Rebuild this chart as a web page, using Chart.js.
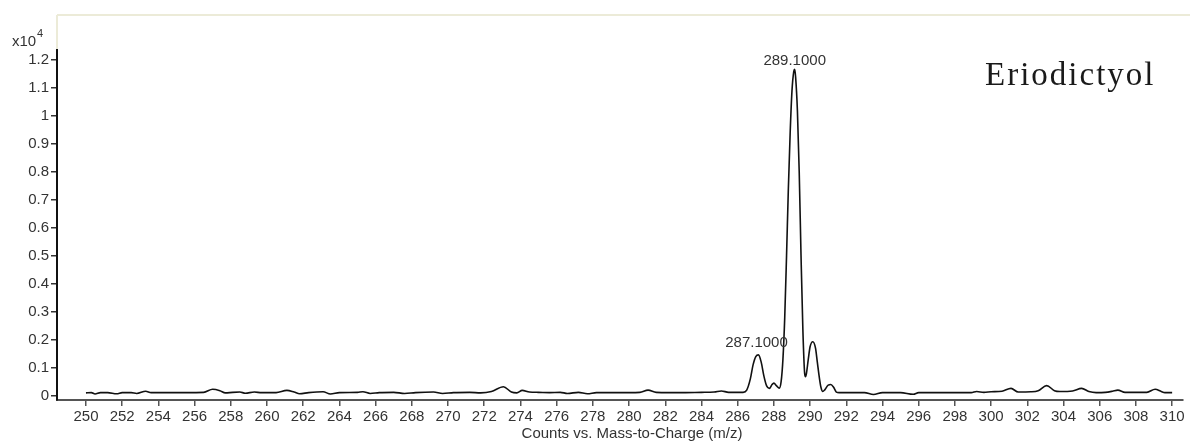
<!DOCTYPE html>
<html>
<head>
<meta charset="utf-8">
<script src="https://cdn.jsdelivr.net/npm/chart.js@4.4.1/dist/chart.umd.min.js"></script>
<style>
  html,body{margin:0;padding:0;background:#fff;}
  #wrap{width:1190px;height:444px;position:relative;}
</style>
</head>
<body>
<div id="wrap"><canvas id="spec"></canvas></div>
<script>
// spectrum, counts in units of x10^4
const mz = [
  250.0,250.3,250.5,250.8,251.2,251.7,252.0,252.5,252.8,253.3,253.6,254.5,255.5,256.5,257.0,257.4,257.7,258.1,258.5,258.8,
  259.3,259.7,260.5,261.1,261.5,261.8,262.3,263.1,263.5,264.0,265.0,265.3,265.7,266.2,267.0,267.6,268.2,269.2,269.7,270.3,
  271.2,271.8,272.4,273.06,273.5,273.8,274.1,274.5,275.0,275.6,276.2,276.6,277.2,277.7,278.2,279.0,280.0,280.6,281.05,281.5,
  282.2,283.0,284.0,284.7,285.1,285.5,286.0,286.3,286.5,286.7,286.85,287.0,287.15,287.3,287.45,287.6,287.75,287.9,288.0,288.15,
  288.3,288.4,288.5,288.6,288.7,288.8,288.9,289.0,289.1,289.15,289.2,289.3,289.4,289.5,289.6,289.7,289.75,289.8,289.9,290.0,
  290.15,290.3,290.4,290.5,290.6,290.7,290.8,291.0,291.15,291.3,291.45,291.6,292.5,293.0,293.5,294.0,295.0,295.7,296.0,297.0,
  298.0,298.9,299.2,299.6,300.0,300.6,301.1,301.5,302.2,302.6,303.07,303.5,303.8,304.5,305.0,305.4,305.8,306.3,306.7,307.0,
  307.4,308.0,308.6,309.06,309.4,309.6,310.0
];
const counts = [
  0.010,0.011,0.006,0.011,0.011,0.007,0.011,0.011,0.008,0.016,0.011,0.011,0.011,0.012,0.023,0.018,0.010,0.012,0.013,0.009,
  0.013,0.011,0.011,0.019,0.013,0.007,0.011,0.014,0.006,0.011,0.012,0.014,0.008,0.011,0.012,0.008,0.011,0.013,0.008,0.011,
  0.012,0.010,0.015,0.032,0.013,0.010,0.019,0.013,0.012,0.011,0.012,0.008,0.012,0.007,0.011,0.011,0.011,0.012,0.020,0.012,
  0.011,0.011,0.012,0.013,0.017,0.012,0.012,0.012,0.020,0.060,0.110,0.140,0.146,0.120,0.070,0.035,0.026,0.040,0.045,0.035,
  0.027,0.050,0.130,0.280,0.500,0.740,0.940,1.090,1.160,1.167,1.140,1.020,0.800,0.500,0.240,0.080,0.068,0.080,0.130,0.175,
  0.193,0.170,0.120,0.070,0.030,0.015,0.020,0.038,0.040,0.030,0.013,0.011,0.011,0.011,0.004,0.011,0.011,0.005,0.011,0.011,
  0.011,0.011,0.015,0.012,0.014,0.016,0.026,0.013,0.014,0.018,0.036,0.018,0.015,0.017,0.026,0.015,0.011,0.012,0.016,0.020,
  0.012,0.012,0.012,0.023,0.015,0.011,0.011
];
const xTicks = [250,252,254,256,258,260,262,264,266,268,270,272,274,276,278,280,282,284,286,288,290,292,294,296,298,300,302,304,306,308,310];
const yTicks = [0,0.1,0.2,0.3,0.4,0.5,0.6,0.7,0.8,0.9,1,1.1,1.2];
const peakMz = [289.15, 287.15];
const peakText = ['289.1000', '287.1000'];
const compound = 'Eriodictyol';
const xTitle = 'Counts vs. Mass-to-Charge (m/z)';

const points = mz.map((m,i)=>({x:m, y:counts[i]}));
const FONT = 'Arial, "Liberation Sans", sans-serif';

const extras = {
  id:'extras',
  beforeDraw(chart){
    const c = chart.ctx;
    c.save();
    c.strokeStyle = '#ecebd8';
    c.lineWidth = 2;
    c.beginPath();
    c.moveTo(57,15); c.lineTo(1190,15);
    c.moveTo(57,15); c.lineTo(57,50);
    c.stroke();
    c.restore();
  },
  afterDraw(chart){
    const c = chart.ctx, xs = chart.scales.x, ys = chart.scales.y;
    c.save();
    c.fillStyle = '#333';
    // exponent label
    c.font = '15px ' + FONT;
    c.textAlign = 'left'; c.textBaseline = 'alphabetic';
    c.fillText('x10', 12, 46);
    c.font = '11px ' + FONT;
    c.fillText('4', 37, 37);
    // peak labels
    c.font = '15px ' + FONT;
    c.textAlign = 'center'; c.textBaseline = 'bottom';
    peakMz.forEach((m,i)=>{
      const idx = mz.indexOf(m);
      const px = xs.getPixelForValue(m);
      const py = ys.getPixelForValue(counts[idx]);
      c.fillText(peakText[i], px - (i ? 2 : 0), py - (i ? 4 : 1));
    });
    // axis title
    c.textBaseline = 'middle';
    c.fillText(xTitle, (xs.left + xs.right)/2 + 12, 434);
    // compound name
    c.fillStyle = '#1a1a1a';
    c.font = '33px "Liberation Serif", "Times New Roman", serif';
    c.textAlign = 'left'; c.textBaseline = 'alphabetic';
    if ('letterSpacing' in c) c.letterSpacing = '2px';
    c.fillText(compound, 985, 85);
    c.restore();
  }
};

new Chart(document.getElementById('spec'), {
  type:'line',
  data:{ datasets:[{
    data:points, borderColor:'#111', borderWidth:1.6, pointRadius:0,
    cubicInterpolationMode:'monotone', fill:false
  }]},
  options:{
    responsive:true, maintainAspectRatio:false, animation:false,
    plugins:{ legend:{display:false}, tooltip:{enabled:false} },
    layout:{ padding:{ left:0, top:50, right:7, bottom:0 } },
    scales:{
      x:{
        type:'linear', min:248.4, max:310.6,
        afterBuildTicks:s=>{ s.ticks = xTicks.map(v=>({value:v})); },
        afterFit:s=>{ s.height = 44; },
        grid:{ drawOnChartArea:false, drawTicks:true, tickLength:6, color:'#555', lineWidth:1.5 },
        border:{ display:true, color:'#555', width:2 },
        ticks:{ color:'#333', padding:2, maxRotation:0, autoSkip:false, font:{ size:15, family:FONT },
          callback:v=>String(v) }
      },
      y:{
        type:'linear', min:-0.0154, max:1.236,
        afterBuildTicks:s=>{ s.ticks = yTicks.map(v=>({value:v})); },
        afterFit:s=>{ s.width = 57; },
        grid:{ drawOnChartArea:false, drawTicks:true, tickLength:6, color:'#333', lineWidth:1.5 },
        border:{ display:true, color:'#111', width:2 },
        ticks:{ color:'#333', padding:2, autoSkip:false, font:{ size:15, family:FONT },
          callback:v=>String(Math.round(v*10)/10) }
      }
    }
  },
  plugins:[extras]
});
</script>
</body>
</html>
